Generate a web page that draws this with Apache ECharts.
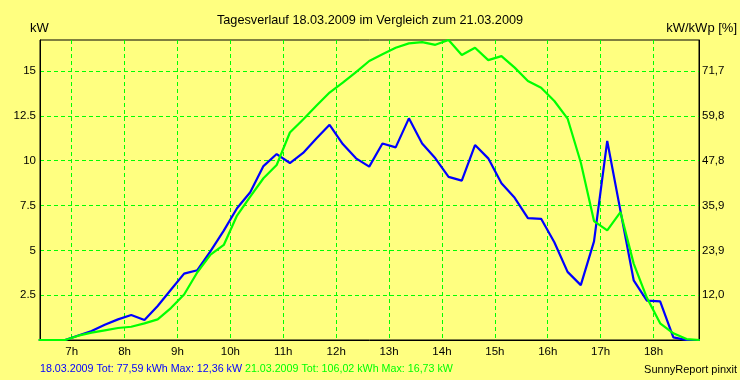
<!DOCTYPE html>
<html><head><meta charset="utf-8">
<script src="https://cdn.jsdelivr.net/npm/echarts@6/dist/echarts.min.js"></script>
<style>html,body{margin:0;padding:0;background:#FFFF80}#c{width:740px;height:380px}</style>
</head><body><div id="c"></div>
<script>
// time of day in hours (15-minute samples)
const times = [6.375,6.625,6.875,7.125,7.375,7.625,7.875,8.125,8.375,8.625,8.875,
  9.125,9.375,9.625,9.875,10.125,10.375,10.625,10.875,11.125,11.375,11.625,11.875,
  12.125,12.375,12.625,12.875,13.125,13.375,13.625,13.875,14.125,14.375,14.625,14.875,
  15.125,15.375,15.625,15.875,16.125,16.375,16.625,16.875,17.125,17.375,17.625,17.875,
  18.125,18.375,18.625,18.875];
// kW on 18.03.2009 (blue)
const power18 = [0,0,0,0.25,0.5,0.85,1.15,1.39,1.11,1.9,2.8,
  3.7,3.89,4.96,6.1,7.35,8.24,9.7,10.37,9.87,10.43,11.24,12.0,
  10.93,10.13,9.67,10.96,10.74,12.36,10.96,10.13,9.1,8.89,10.87,10.13,
  8.74,7.93,6.8,6.76,5.45,3.8,3.06,5.5,11.1,7.2,3.33,2.2,
  2.15,0.15,0,0];
// kW on 21.03.2009 (green)
const power21 = [0,0,0,0.24,0.41,0.54,0.67,0.74,0.93,1.15,1.78,
  2.54,3.78,4.76,5.3,6.94,8.0,9.02,9.76,11.57,12.3,13.06,13.8,
  14.35,14.94,15.56,15.93,16.3,16.54,16.61,16.46,16.73,15.89,16.3,15.61,
  15.83,15.19,14.44,14.07,13.33,12.35,9.9,6.63,6.11,7.13,4.26,2.35,
  0.93,0.37,0.05,0];
const hourTicks = [7,8,9,10,11,12,13,14,15,16,17,18];
const hourLabels = ['7h','8h','9h','10h','11h','12h','13h','14h','15h','16h','17h','18h'];
const kwTicks = [2.5,5,7.5,10,12.5,15];
const kwLabels = ['2.5','5','7.5','10','12.5','15'];
const pctLabels = ['12,0','23,9','35,9','47,8','59,8','71,7'];
const yMax = 16.73;
const titleText = 'Tagesverlauf 18.03.2009 im Vergleich zum 21.03.2009';
const info18 = '18.03.2009 Tot: 77,59 kWh Max: 12,36 kW';
const info21 = '21.03.2009 Tot: 106,02 kWh Max: 16,73 kW';
const leftUnit = 'kW';
const rightUnit = 'kW/kWp [%]';
const credit = 'SunnyReport pinxit';

const FF = 'Arial, "Liberation Sans", sans-serif';
const idx = (arr, v) => arr.findIndex(a => Math.abs(a - v) < 1e-6);
const chart = echarts.init(document.getElementById('c'), null, {renderer: 'canvas'});
const gridLine = {show: true, lineStyle: {color: '#00FF00', type: [4, 3], width: 1}};
chart.setOption({
  backgroundColor: '#FFFF80',
  animation: false,
  grid: {left: 40, right: 41, top: 40, bottom: 40, show: true, borderColor: '#000', borderWidth: 1, backgroundColor: 'transparent'},
  xAxis: {
    type: 'value', min: 6.4, max: 18.86,
    axisLine: {show: true, lineStyle: {color: '#000', width: 1}},
    axisTick: {show: false, customValues: hourTicks},
    axisLabel: {customValues: hourTicks, formatter: v => hourLabels[idx(hourTicks, v)] || '', color: '#000', fontSize: 11.5, fontFamily: FF, margin: 6},
    splitLine: gridLine
  },
  yAxis: [{
    type: 'value', min: 0, max: yMax, position: 'left',
    axisLine: {show: true, lineStyle: {color: '#000', width: 1}},
    axisTick: {show: false, customValues: kwTicks},
    axisLabel: {customValues: kwTicks, formatter: v => kwLabels[idx(kwTicks, v)] || '', color: '#000', fontSize: 11.5, fontFamily: FF, margin: 4},
    splitLine: gridLine
  }, {
    type: 'value', min: 0, max: yMax, position: 'right',
    axisLine: {show: true, lineStyle: {color: '#000', width: 1}},
    axisTick: {show: false, customValues: kwTicks},
    axisLabel: {customValues: kwTicks, formatter: v => pctLabels[idx(kwTicks, v)] || '', color: '#000', fontSize: 11.5, fontFamily: FF, margin: 3},
    splitLine: {show: false}
  }],
  series: [{
    type: 'line', name: '18.03.2009', showSymbol: false, symbol: 'none',
    data: times.map((t, i) => [t, power18[i]]),
    lineStyle: {color: '#0000FF', width: 2.2}, itemStyle: {color: '#0000FF'}
  }, {
    type: 'line', name: '21.03.2009', showSymbol: false, symbol: 'none',
    data: times.map((t, i) => [t, power21[i]]),
    lineStyle: {color: '#00FF00', width: 2.2}, itemStyle: {color: '#00FF00'}
  }],
  graphic: [
    {type: 'text', style: {text: titleText, x: 370, y: 20, fill: '#000', font: '12.7px ' + FF, textAlign: 'center', align: 'center', textVerticalAlign: 'middle', verticalAlign: 'middle'}},
    {type: 'text', style: {text: leftUnit, x: 30, y: 28, fill: '#000', font: '13px ' + FF, textAlign: 'left', align: 'left', textVerticalAlign: 'middle', verticalAlign: 'middle'}},
    {type: 'text', style: {text: rightUnit, x: 737, y: 28, fill: '#000', font: '13px ' + FF, textAlign: 'right', align: 'right', textVerticalAlign: 'middle', verticalAlign: 'middle'}},
    {type: 'text', style: {text: '{b|' + info18 + '} {g|' + info21 + '}', x: 40, y: 369, font: '10.7px ' + FF, textAlign: 'left', align: 'left', textVerticalAlign: 'middle', verticalAlign: 'middle',
      rich: {b: {fill: '#0000FF', font: '10.7px ' + FF}, g: {fill: '#00FF00', font: '10.7px ' + FF}}}},
    {type: 'text', style: {text: credit, x: 737, y: 370, fill: '#000', font: '11px ' + FF, textAlign: 'right', align: 'right', textVerticalAlign: 'middle', verticalAlign: 'middle'}}
  ]
});
</script></body></html>
